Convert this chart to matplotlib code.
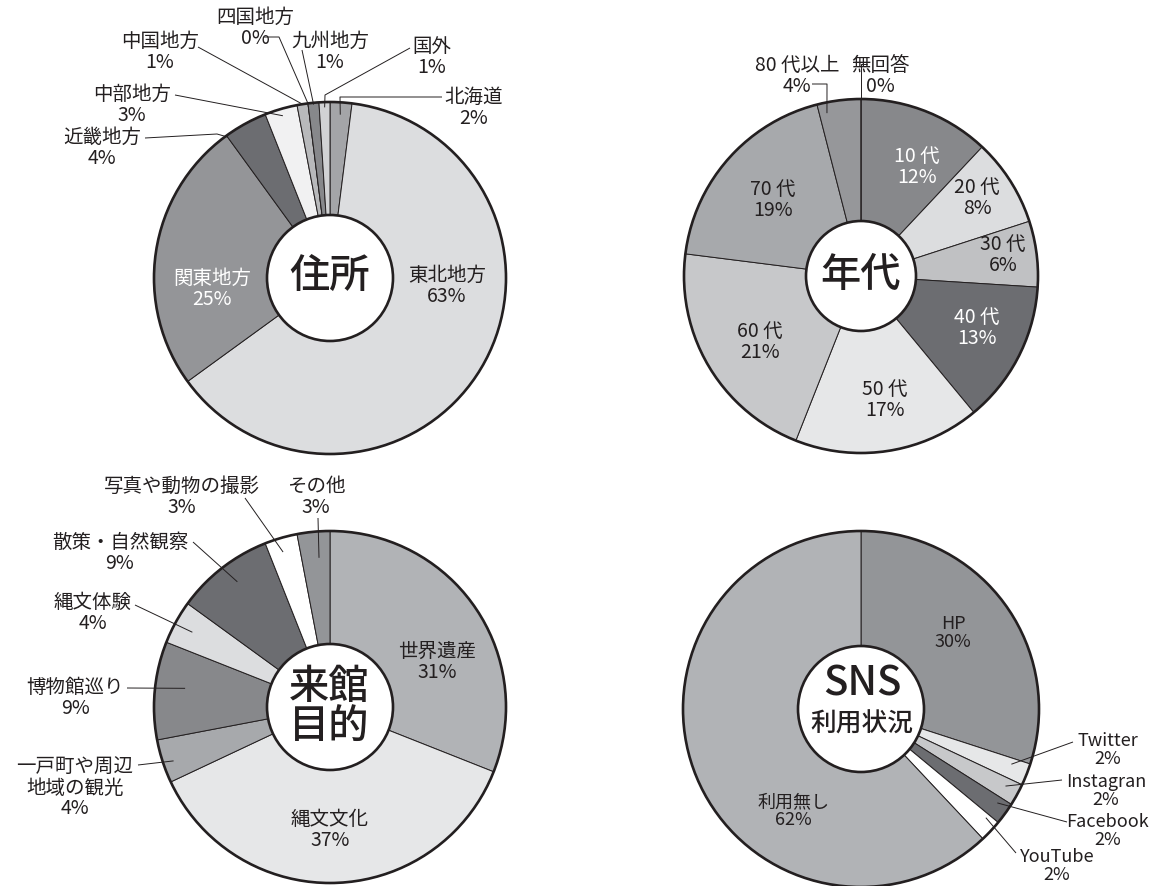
import matplotlib
matplotlib.use("Agg")
import matplotlib.pyplot as plt
from matplotlib.patches import Circle
import numpy as np

plt.rcParams['font.family'] = ['Noto Sans CJK JP', 'DejaVu Sans']

INK = '#231f20'

# --- 住所 ---
addr_cats = ['北海道', '東北地方', '関東地方', '近畿地方', '中部地方',
             '中国地方', '四国地方', '九州地方', '国外']
addr_vals = [2, 63, 25, 4, 3, 1, 0, 1, 1]
addr_cols = ['#a4a5a8', '#dcdddf', '#949598', '#6c6d71', '#f1f1f2',
             '#b8b9bb', '#ffffff', '#87888b', '#d1d2d4']

# --- 年代 ---
age_cats = ['10 代', '20 代', '30 代', '40 代', '50 代', '60 代', '70 代',
            '80 代以上', '無回答']
age_vals = [12, 8, 6, 13, 17, 21, 19, 4, 0]
age_cols = ['#87888b', '#dcdddf', '#c0c1c3', '#6c6d71', '#e6e7e8',
            '#c7c8ca', '#a7a9ac', '#96979a', '#ffffff']

# --- 来館目的 ---
purp_cats = ['世界遺産', '縄文文化', '一戸町や周辺\n地域の観光', '博物館巡り',
             '縄文体験', '散策・自然観察', '写真や動物の撮影', 'その他']
purp_vals = [31, 37, 4, 9, 4, 9, 3, 3]
purp_cols = ['#b1b3b6', '#e6e7e8', '#a7a9ac', '#87888b', '#dcdddf',
             '#6c6d71', '#ffffff', '#939598']

# --- SNS利用状況 ---
sns_cats = ['HP', 'Twitter', 'Instagran', 'Facebook', 'YouTube', '利用無し']
sns_vals = [30, 2, 2, 2, 2, 62]
sns_cols = ['#939598', '#e6e7e8', '#c7c8ca', '#6c6d71', '#ffffff', '#b1b3b6']


def anchor(cx, cy, R, vals, i, t, rf):
    # point inside wedge i; angle runs clockwise from 12 o'clock
    tot = float(sum(vals))
    a = np.radians(360 * (sum(vals[:i]) + t * vals[i]) / tot)
    return cx + R * rf * np.sin(a), cy - R * rf * np.cos(a)


def draw_donut(ax, cx, cy, R, r_in, cats, vals, cols, labels, leaders, fs=14):
    # y axis is inverted, so counterclock in data = clockwise on screen
    ax.pie(vals, colors=cols, center=(cx, cy), radius=R,
           startangle=-90, counterclock=True, frame=True,
           wedgeprops=dict(edgecolor=INK, linewidth=0.7))
    ax.add_patch(Circle((cx, cy), R, fill=False, ec=INK, lw=1.9, zorder=3))
    ax.add_patch(Circle((cx, cy), r_in, fc='white', ec=INK, lw=1.9, zorder=4))
    for i, (x, y, col) in labels.items():
        ax.text(x, y, f"{cats[i]}\n{vals[i]}%", ha='center', va='center',
                color=col, fontsize=fs, linespacing=0.98, zorder=5)
    for i, (pts, t, rf) in leaders.items():
        ex, ey = anchor(cx, cy, R, vals, i, t, rf)
        xs = [p[0] for p in pts] + [ex]
        ys = [p[1] for p in pts] + [ey]
        ax.plot(xs, ys, color=INK, lw=0.7, zorder=5, solid_capstyle='butt')


fig = plt.figure(figsize=(11.56, 8.86), dpi=100)
ax = fig.add_axes([0, 0, 1, 1])

W, K = 'white', INK

# 住所
draw_donut(ax, 330, 278, 176, 63, addr_cats, addr_vals, addr_cols,
           {0: (474, 108, K), 1: (447, 286, K), 2: (212, 289, W),
            3: (102, 148, K), 4: (132, 105, K), 5: (160, 52, K),
            6: (255, 28, K), 7: (330, 52, K), 8: (432, 57, K)},
           {0: ([(442, 97), (340, 97)], 0.5, 0.93),
            8: ([(410, 48), (325, 95)], 0.5, 0.97),
            7: ([(302, 50)], 0.5, 0.99),
            6: ([(264, 37), (279, 37)], 0.0, 1.0),
            5: ([(198, 47)], 0.5, 1.0),
            4: ([(175, 95)], 0.5, 0.96),
            3: ([(145, 138), (217, 134)], 0.0, 0.99)})
ax.text(330, 276, '住所', ha='center', va='center', fontsize=29,
        fontweight='medium', color=INK, zorder=6)

# 年代
draw_donut(ax, 861, 276, 177, 55, age_cats, age_vals, age_cols,
           {0: (917, 167, W), 1: (977, 198, K), 2: (1003, 255, K),
            3: (977, 328, W), 4: (885, 400, K), 5: (760, 342, K),
            6: (773, 200, K), 7: (797, 76, K), 8: (880, 76, K)},
           {7: ([(812, 84), (827, 84)], 0.18, 0.94),
            8: ([(867, 64), (861, 64)], 0.0, 1.0)})
ax.text(861, 275, '年代', ha='center', va='center', fontsize=29,
        fontweight='medium', color=INK, zorder=6)

# 来館目的
draw_donut(ax, 330, 707, 176, 63, purp_cats, purp_vals, purp_cols,
           {0: (437, 662, K), 1: (330, 830, K), 2: (75, 788, K),
            3: (75, 698, K), 4: (93, 613, K), 5: (120, 553, K),
            6: (182, 497, K), 7: (316, 497, K)},
           {6: ([(245, 498)], 0.44, 0.92),
            7: ([(318, 518)], 0.61, 0.85),
            5: ([(193, 542)], 0.54, 0.885),
            4: ([(135, 605)], 0.48, 0.89),
            3: ([(127, 688)], 0.56, 0.83),
            2: ([(138, 765)], 0.43, 0.94)})
ax.text(329, 707, '来館\n目的', ha='center', va='center', fontsize=29,
        fontweight='medium', linespacing=0.92, color=INK, zorder=6)

# SNS利用状況
draw_donut(ax, 861, 709, 178, 63, sns_cats, sns_vals, sns_cols,
           {0: (953, 633, K), 1: (1108, 750, K), 2: (1106, 791, K),
            3: (1108, 831, K), 4: (1057, 866, K), 5: (793, 811, K)},
           {1: ([(1073, 742)], 0.3, 0.9),
            2: ([(1062, 780)], 0.4, 0.92),
            3: ([(1067, 822)], 0.3, 0.93),
            4: ([(1016, 853)], 0.2, 0.93)},
           fs=13)
ax.text(862, 684, 'SNS', ha='center', va='center', fontsize=29,
        fontweight='medium', color=INK, zorder=6)
ax.text(862, 724, '利用状況', ha='center', va='center', fontsize=18.5,
        fontweight='medium', color=INK, zorder=6)

ax.set_xlim(0, 1156)
ax.set_ylim(886, 0)
ax.set_aspect('equal')
ax.axis('off')

fig.savefig('out.png', dpi=100)
